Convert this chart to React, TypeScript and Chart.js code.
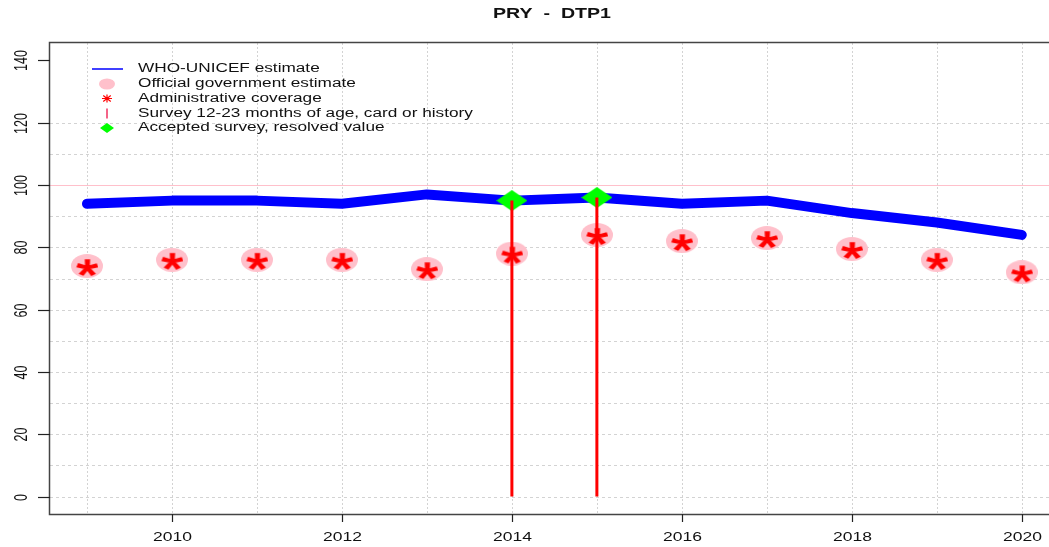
import React, { useEffect, useRef } from "react";
import { Chart, registerables } from "chart.js";
Chart.register(...registerables);

const chartTitle = "PRY  -  DTP1";
const years = [2009, 2010, 2011, 2012, 2013, 2014, 2015, 2016, 2017, 2018, 2019, 2020];
const wuenicEstimate = [94, 95, 95, 94, 97, 95, 96, 94, 95, 91, 88, 84];
const officialEstimate = [74, 76, 76, 76, 73, 78, 84, 82, 83, 79.5, 76, 72];
const adminCoverage = [74, 76, 76, 76, 73, 78, 84, 82, 83, 79.5, 76, 72];
const surveyYears = [2014, 2015];
const surveyValues = [95, 96];
const acceptedYears = [2014, 2015];
const acceptedValues = [95, 96];
const yTickLabels = [0, 20, 40, 60, 80, 100, 120, 140];
const yGridValues = [0, 10, 20, 30, 40, 50, 60, 70, 80, 90, 100, 110, 120];
const xTickLabels = [2010, 2012, 2014, 2016, 2018, 2020];
const legendLabels = [
  "WHO-UNICEF estimate",
  "Official government estimate",
  "Administrative coverage",
  "Survey 12-23 months of age, card or history",
  "Accepted survey, resolved value",
];

const SX = 1.4; // horizontal stretch of the reference image
const FONT = '"Liberation Sans", Arial, sans-serif';

function ellipseImg(w: number, h: number, color: string) {
  const c = document.createElement("canvas");
  c.width = w;
  c.height = h;
  const g = c.getContext("2d")!;
  g.fillStyle = color;
  g.beginPath();
  g.ellipse(w / 2, h / 2, w / 2, h / 2, 0, 0, Math.PI * 2);
  g.fill();
  return c;
}

function diamondImg(w: number, h: number, color: string) {
  const c = document.createElement("canvas");
  c.width = w;
  c.height = h;
  const g = c.getContext("2d")!;
  g.fillStyle = color;
  g.beginPath();
  g.moveTo(w / 2, 0);
  g.lineTo(w, h / 2);
  g.lineTo(w / 2, h);
  g.lineTo(0, h / 2);
  g.closePath();
  g.fill();
  return c;
}

function drawAsterisk(g: CanvasRenderingContext2D, cx: number, cy: number, w: number, h: number, color: string) {
  g.save();
  g.font = "40px " + FONT;
  g.textAlign = "left";
  g.textBaseline = "alphabetic";
  const m = g.measureText("*");
  const bw = m.actualBoundingBoxLeft + m.actualBoundingBoxRight;
  const bh = m.actualBoundingBoxAscent + m.actualBoundingBoxDescent;
  g.translate(cx, cy);
  g.scale(w / bw, h / bh);
  g.fillStyle = color;
  g.strokeStyle = color;
  g.lineWidth = 1.2;
  const dx = -(m.actualBoundingBoxRight - m.actualBoundingBoxLeft) / 2;
  const dy = (m.actualBoundingBoxAscent - m.actualBoundingBoxDescent) / 2;
  g.fillText("*", dx, dy);
  g.strokeText("*", dx, dy);
  g.restore();
}

function asteriskImg(w: number, h: number, color: string) {
  const c = document.createElement("canvas");
  c.width = w + 2;
  c.height = h + 6;
  const g = c.getContext("2d")!;
  drawAsterisk(g, (w + 2) / 2, h / 2 + 4, w, h, color);
  return c;
}

function sText(
  ctx: CanvasRenderingContext2D,
  text: string,
  x: number,
  y: number,
  font: string,
  align: CanvasTextAlign,
  rotate = false
) {
  ctx.save();
  ctx.translate(x, y);
  ctx.scale(SX, 1);
  if (rotate) ctx.rotate(-Math.PI / 2);
  ctx.font = font;
  ctx.fillStyle = "#111";
  ctx.textAlign = align;
  ctx.textBaseline = "middle";
  ctx.fillText(text, 0, 0);
  ctx.restore();
}

const decorPlugin = {
  id: "rDecor",
  beforeDatasetsDraw(chart: any) {
    const { ctx, chartArea, scales } = chart;
    const { left, right, top, bottom } = chartArea;
    const xs = scales.x;
    const ys = scales.y;
    ctx.save();
    ctx.strokeStyle = "#d3d3d3";
    ctx.lineWidth = 1;
    ctx.setLineDash([2, 2]);
    for (const yr of years) {
      const px = Math.round(xs.getPixelForValue(yr)) + 0.5;
      ctx.beginPath();
      ctx.moveTo(px, top);
      ctx.lineTo(px, bottom);
      ctx.stroke();
    }
    ctx.setLineDash([3, 3]);
    for (const v of yGridValues) {
      const py = Math.round(ys.getPixelForValue(v)) + 0.5;
      ctx.beginPath();
      ctx.moveTo(left, py);
      ctx.lineTo(right, py);
      ctx.stroke();
    }
    ctx.setLineDash([]);
    ctx.strokeStyle = "#ffc0cb";
    const p100 = Math.round(ys.getPixelForValue(100)) + 0.5;
    ctx.beginPath();
    ctx.moveTo(left, p100);
    ctx.lineTo(right, p100);
    ctx.stroke();
    ctx.restore();
  },
  afterDatasetsDraw(chart: any) {
    const { ctx, chartArea, scales } = chart;
    const { left, right, top, bottom } = chartArea;
    const xs = scales.x;
    const ys = scales.y;
    ctx.save();
    // box
    ctx.strokeStyle = "#444";
    ctx.lineWidth = 1.5;
    ctx.beginPath();
    ctx.moveTo(right + 2, top - 0.5);
    ctx.lineTo(left - 0.5, top - 0.5);
    ctx.lineTo(left - 0.5, bottom + 0.5);
    ctx.lineTo(right + 2, bottom + 0.5);
    ctx.stroke();
    // ticks
    ctx.strokeStyle = "#222";
    ctx.lineWidth = 1.2;
    for (const v of yTickLabels) {
      const py = Math.round(ys.getPixelForValue(v)) + 0.5;
      ctx.beginPath();
      ctx.moveTo(left - 12, py);
      ctx.lineTo(left, py);
      ctx.stroke();
      sText(ctx, String(v), 22, py, "12.5px " + FONT, "center", true);
    }
    for (const yr of xTickLabels) {
      const px = Math.round(xs.getPixelForValue(yr)) + 0.5;
      ctx.beginPath();
      ctx.moveTo(px, bottom);
      ctx.lineTo(px, bottom + 8);
      ctx.stroke();
      sText(ctx, String(yr), px, 538, "12.5px " + FONT, "center");
    }
    // title
    sText(ctx, chartTitle, 552, 14, "bold 14px " + FONT, "center");
    // legend
    const rows = [69, 84, 98.5, 113.5, 128];
    const mx = 107;
    ctx.strokeStyle = "#0000ff";
    ctx.lineWidth = 1.5;
    ctx.beginPath();
    ctx.moveTo(92, rows[0]);
    ctx.lineTo(123, rows[0]);
    ctx.stroke();
    ctx.fillStyle = "#ffc0cb";
    ctx.beginPath();
    ctx.ellipse(mx, rows[1], 8, 5.5, 0, 0, Math.PI * 2);
    ctx.fill();
    // pch 8 style asterisk
    ctx.strokeStyle = "#ff0000";
    ctx.lineWidth = 1.2;
    const ax = 5,
      ay = 4;
    ctx.beginPath();
    ctx.moveTo(mx - ax, rows[2]);
    ctx.lineTo(mx + ax, rows[2]);
    ctx.moveTo(mx, rows[2] - ay);
    ctx.lineTo(mx, rows[2] + ay);
    ctx.moveTo(mx - ax * 0.75, rows[2] - ay * 0.75);
    ctx.lineTo(mx + ax * 0.75, rows[2] + ay * 0.75);
    ctx.moveTo(mx - ax * 0.75, rows[2] + ay * 0.75);
    ctx.lineTo(mx + ax * 0.75, rows[2] - ay * 0.75);
    ctx.stroke();
    ctx.strokeStyle = "#f03060";
    ctx.lineWidth = 1.5;
    ctx.beginPath();
    ctx.moveTo(mx, rows[3] - 5);
    ctx.lineTo(mx, rows[3] + 5);
    ctx.stroke();
    ctx.fillStyle = "#00ff00";
    ctx.beginPath();
    ctx.moveTo(mx, rows[4] - 5);
    ctx.lineTo(mx + 7, rows[4]);
    ctx.lineTo(mx, rows[4] + 5);
    ctx.lineTo(mx - 7, rows[4]);
    ctx.closePath();
    ctx.fill();
    legendLabels.forEach((t, i) => sText(ctx, t, 138, rows[i], "12.3px " + FONT, "left"));
    ctx.restore();
  },
};

export default function App() {
  const ref = useRef<HTMLCanvasElement | null>(null);
  useEffect(() => {
    if (!ref.current) return;
    const pinkImg = ellipseImg(32, 24, "#ffc0cb");
    const starImg = asteriskImg(21, 16, "#ff0000");
    const diaImg = diamondImg(31, 21, "#00ff00");
    const surveySets = surveyYears.map((yr, i) => ({
      type: "line" as const,
      data: [
        { x: yr, y: 0 },
        { x: yr, y: surveyValues[i] },
      ],
      borderColor: "#ff0000",
      borderWidth: 3,
      pointRadius: 0,
      order: 0,
    }));
    const chart = new Chart(ref.current, {
      type: "scatter",
      data: {
        datasets: [
          ...surveySets,
          {
            type: "scatter",
            data: acceptedYears.map((x, i) => ({ x, y: acceptedValues[i] })),
            pointStyle: diaImg as any,
            pointRadius: 6,
            order: 1,
          },
          {
            type: "scatter",
            data: years.map((x, i) => ({ x, y: adminCoverage[i] })),
            pointStyle: starImg as any,
            pointRadius: 6,
            order: 2,
          },
          {
            type: "scatter",
            data: years.map((x, i) => ({ x, y: officialEstimate[i] })),
            pointStyle: pinkImg as any,
            pointRadius: 6,
            order: 3,
          },
          {
            type: "line",
            data: years.map((x, i) => ({ x, y: wuenicEstimate[i] })),
            borderColor: "#0000ff",
            borderWidth: 10,
            borderCapStyle: "round",
            borderJoinStyle: "round",
            pointRadius: 0,
            order: 4,
          },
        ] as any,
      },
      options: {
        responsive: false,
        animation: false,
        events: [],
        layout: { autoPadding: false, padding: { left: 50, top: 43, right: 0, bottom: 33 } },
        scales: {
          x: { type: "linear", min: 2008.565, max: 2020.32, display: false },
          y: { type: "linear", min: -5.6, max: 145.6, display: false },
        },
        plugins: { legend: { display: false }, tooltip: { enabled: false }, title: { display: false } },
      },
      plugins: [decorPlugin],
    });
    return () => chart.destroy();
  }, []);
  return (
    <div style={{ position: "fixed", left: 0, top: 0, width: 1049, height: 547, background: "#fff" }}>
      <canvas ref={ref} width={1049} height={547} style={{ display: "block", width: 1049, height: 547 }} />
    </div>
  );
}
